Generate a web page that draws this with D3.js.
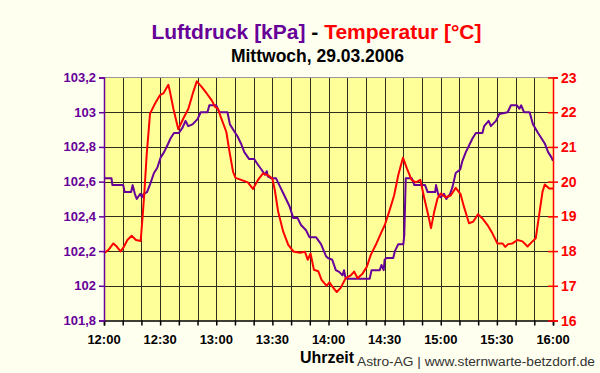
<!DOCTYPE html>
<html><head><meta charset="utf-8">
<script src="https://cdn.jsdelivr.net/npm/d3@7"></script>
<style>html,body{margin:0;padding:0;background:#FFFFF0;}svg{display:block;font-family:"Liberation Sans",Arial,sans-serif;}</style>
</head><body>
<svg id="c" width="600" height="373"></svg>
<script>
// minutes after 12:00
const pressureTime = [0,4,4.5,10.3,11,14.5,15.3,16.5,17.5,19.4,20.3,21.2,23,24.8,26.7,28.5,30.3,32.1,33.9,35.6,37.4,40,41.9,43.6,45,47.3,50,51.7,55.3,56.3,60,61.6,66,67.3,69.6,71.4,73.2,75,77.6,80.3,82.1,84.8,86,87,87.6,89.2,91.9,93.7,96.4,99.1,101.2,103.5,105.3,108,109.8,113.3,116,118.7,119.7,122,123.9,125.7,127.5,128.3,129,130,142,143,147.4,148.3,149.5,150,151,154.6,155.5,157.3,160,160.5,161.3,164.5,165.9,171.6,173,177,177.5,178.8,180,181.7,183,185,186.3,188,190.4,191.6,193.4,195.2,197,198.8,202.3,203.2,205.6,206.8,209.5,211.3,215.8,217.5,220.7,222,223,224.5,227.5,229.3,232,233.8,235.6,237.4,239.2,240];
const pressureValue = [102.62,102.62,102.58,102.58,102.54,102.54,102.58,102.53,102.50,102.53,102.51,102.53,102.54,102.59,102.65,102.68,102.74,102.77,102.81,102.85,102.88,102.88,102.91,102.95,102.92,102.93,102.96,103.0,103.0,103.04,103.04,103.0,103.0,102.93,102.89,102.86,102.82,102.77,102.73,102.73,102.70,102.66,102.64,102.66,102.63,102.62,102.62,102.58,102.52,102.46,102.39,102.39,102.35,102.32,102.28,102.28,102.24,102.17,102.16,102.15,102.09,102.08,102.06,102.09,102.05,102.04,102.04,102.09,102.09,102.12,102.09,102.15,102.16,102.16,102.20,102.24,102.24,102.29,102.62,102.62,102.58,102.58,102.54,102.54,102.58,102.52,102.51,102.53,102.50,102.53,102.57,102.65,102.67,102.72,102.77,102.81,102.85,102.88,102.88,102.92,102.95,102.92,102.95,102.99,103.0,103.04,103.04,103.02,103.04,103.0,103.0,102.93,102.88,102.85,102.82,102.77,102.74,102.72];
const tempTime = [0,2.3,5,6.8,8.9,10.7,12.5,14.8,17.1,19.6,20.7,21.6,22.8,24.6,27.3,29.9,31.7,34.4,35.3,37.1,39.7,42.4,45.1,47.7,49.6,52.2,54.9,57.6,59.4,60.9,62.7,65.4,67.1,69,70.3,73.3,76.9,79.6,82.3,85,87.7,90,91.3,93.1,95.8,98.5,101.2,104.7,107.4,108.9,110.4,112.2,114.5,116.3,119,120.5,122,124.4,126.5,129.2,131.9,133.7,135.5,138.2,140.5,142.6,145.3,148,150.1,152.4,155.1,157.3,159.8,161.9,164.4,166.7,169.1,171.2,173.3,174.8,176.5,178.3,180,182.6,185.3,188,190.6,192.4,195.1,197.4,199.9,202.3,205,207.6,210.3,213,214.5,216,218.3,221,223.7,226.4,228.5,230.8,232.6,234.4,235.6,238,240];
const tempValue = [17.94,18.03,18.22,18.13,17.99,18.13,18.32,18.44,18.32,18.29,19.04,19.71,20.76,21.96,22.25,22.49,22.54,22.79,22.58,22.10,21.51,21.82,22.10,22.58,22.89,22.73,22.54,22.34,22.15,22.1,21.82,21.43,20.86,20.28,20.11,20.05,19.98,19.79,20.05,20.24,20.18,20.09,19.76,19.13,18.56,18.18,17.99,17.95,17.98,17.75,17.93,17.46,17.42,17.17,17.0,17.1,16.98,16.82,16.94,17.22,17.3,17.41,17.22,17.35,17.55,17.89,18.18,18.51,18.75,19.13,19.61,20.19,20.69,20.38,20.05,19.98,20.05,19.52,19.04,18.66,19.13,19.52,19.66,19.55,19.6,19.82,19.64,19.28,18.80,18.85,19.06,18.94,18.75,18.51,18.22,18.22,18.12,18.2,18.22,18.32,18.28,18.13,18.25,18.37,19.04,19.71,19.92,19.80,19.80];
const pressureTicks = [101.8,102.0,102.2,102.4,102.6,102.8,103.0,103.2];
const tempTicks = [16,17,18,19,20,21,22,23];
const timeTicks = [0,30,60,90,120,150,180,210,240];
const timeLabels = ["12:00","12:30","13:00","13:30","14:00","14:30","15:00","15:30","16:00"];

const PURPLE = "#660099", RED = "#FF0000";
const svg = d3.select("#c");
const L = 104, R = 553, T = 77.5, B = 320.5;
const x = d3.scaleLinear().domain([0,240]).range([L,R]);
const yP = d3.scaleLinear().domain([101.8,103.2]).range([B,T]);
const yT = d3.scaleLinear().domain([16,23]).range([B,T]);

svg.append("rect").attr("x",L).attr("y",T).attr("width",R-L).attr("height",B-T).attr("fill","#FFFF99");

// grid
const g = svg.append("g");
g.selectAll("line.v").data(d3.range(10,240,10)).join("line")
  .attr("x1",d=>Math.round(x(d))+0.5).attr("x2",d=>Math.round(x(d))+0.5)
  .attr("y1",T).attr("y2",B).attr("stroke","#2e2e1e").attr("stroke-width",1);
g.selectAll("line.h").data(pressureTicks.slice(1,7)).join("line")
  .attr("x1",L).attr("x2",R).attr("y1",d=>Math.round(yP(d))+0.5).attr("y2",d=>Math.round(yP(d))+0.5)
  .attr("stroke","#2e2e1e").attr("stroke-width",1);
svg.append("line").attr("x1",L).attr("x2",R).attr("y1",T).attr("y2",T).attr("stroke","#999").attr("stroke-width",1);

// lines
const pData = pressureTime.map((t,i)=>[t,pressureValue[i]]);
const tData = tempTime.map((t,i)=>[t,tempValue[i]]);
svg.append("path").datum(pData).attr("fill","none").attr("stroke",PURPLE).attr("stroke-width",2)
  .attr("stroke-linejoin","round")
  .attr("d",d3.line().x(d=>x(d[0])).y(d=>yP(d[1])));
svg.append("path").datum(tData).attr("fill","none").attr("stroke",RED).attr("stroke-width",2)
  .attr("stroke-linejoin","round")
  .attr("d",d3.line().x(d=>x(d[0])).y(d=>yT(d[1])));

// bottom axis
const xAxis = d3.axisBottom(x).tickValues(d3.range(0,250,10)).tickSize(5).tickFormat("");
const gx = svg.append("g").attr("transform",`translate(0,${B})`).call(xAxis);
gx.selectAll("path,line").attr("stroke","#000").attr("stroke-width",1.5);
svg.append("g").selectAll("text").data(timeTicks).join("text")
  .attr("x",d=>x(d)).attr("y",344).attr("text-anchor","middle")
  .attr("font-size",13).attr("font-weight","bold").attr("fill","#000")
  .text((d,i)=>timeLabels[i]);

// left axis
const yAxisL = d3.axisLeft(yP).tickValues(pressureTicks).tickSize(5).tickFormat("");
const gl = svg.append("g").attr("transform",`translate(${L},0)`).call(yAxisL);
gl.selectAll("path,line").attr("stroke",PURPLE).attr("stroke-width",1.5);
svg.append("g").selectAll("text").data(pressureTicks).join("text")
  .attr("x",96).attr("y",d=>yP(d)+4.5).attr("text-anchor","end")
  .attr("font-size",13).attr("font-weight","bold").attr("fill",PURPLE)
  .text(d=>d3.format(".1f")(d).replace(/\.0$/,"").replace(".",","));

// right axis
const yAxisR = d3.axisRight(yT).tickValues(tempTicks).tickSize(5).tickFormat("");
const gr = svg.append("g").attr("transform",`translate(${R},0)`).call(yAxisR);
gr.selectAll("path,line").attr("stroke",RED).attr("stroke-width",1.5);
gr.selectAll(".tick line").attr("x1",-5);
svg.append("g").selectAll("text").data(tempTicks).join("text")
  .attr("x",561).attr("y",d=>yT(d)+5).attr("text-anchor","start")
  .attr("font-size",14).attr("font-weight","bold").attr("fill",RED)
  .text(d=>d);

// titles
const tt = svg.append("text").attr("x",316.5).attr("y",39).attr("text-anchor","middle")
  .attr("font-size",21).attr("font-weight","bold");
tt.append("tspan").attr("fill",PURPLE).text("Luftdruck [kPa]");
tt.append("tspan").attr("fill","#000").text(" - ");
tt.append("tspan").attr("fill",RED).text("Temperatur [°C]");
svg.append("text").attr("x",317.5).attr("y",62).attr("text-anchor","middle")
  .attr("font-size",17.5).attr("font-weight","bold").attr("fill","#000").text("Mittwoch, 29.03.2006");
svg.append("text").attr("x",327).attr("y",363).attr("text-anchor","middle")
  .attr("font-size",16).attr("font-weight","bold").attr("fill","#000").text("Uhrzeit");
svg.append("text").attr("x",357).attr("y",366)
  .attr("font-size",12.5).attr("fill","#333").attr("textLength",238).attr("lengthAdjust","spacingAndGlyphs")
  .text("Astro-AG | www.sternwarte-betzdorf.de");
</script>
</body></html>
